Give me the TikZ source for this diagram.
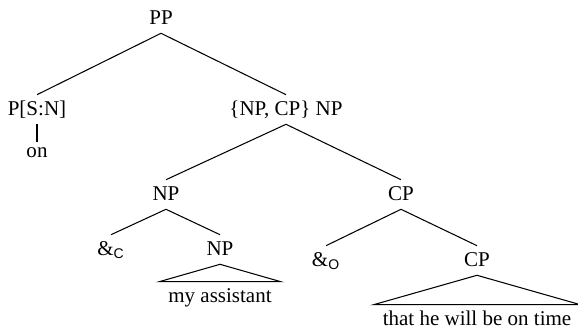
\documentclass[tikz,border=0pt]{standalone}
\usepackage{fontspec}
\setmainfont{Liberation Serif}
\setsansfont{Liberation Sans}
\newfontfamily\treefont{Liberation Serif}
\usepackage{tikz}

\begin{document}
\begin{tikzpicture}[
    x=0.571pt, y=0.571pt,
    cat/.style={anchor=base, font=\treefont\fontsize{12}{14}\selectfont,
                text height=8pt, text depth=1.7pt,
                inner xsep=5pt, inner ysep=3.4pt},
    word/.style={cat, text height=4.8pt},
    branch/.style={line width=0.6pt},
]
\useasboundingbox (0,0) rectangle (578,-329);

% Top level
\node[cat]  (pp)   at (161,-24)  {PP};
\node[cat]  (psn)  at (37,-115)  {P[S:N]};
\node[word] (on)   at (37,-157)  {on};
\node[cat]  (conj) at (286,-115) {\{NP, CP\} NP};
\draw[branch] (pp.south) -- (psn.north);
\draw[branch] (pp.south) -- (conj.north);
\draw[branch] (psn.south) -- (on.north);

% Coordinated phrases
\node[cat] (np) at (166,-200) {NP};
\node[cat] (cp) at (401,-200) {CP};
\draw[branch] (conj.south) -- (np.north);
\draw[branch] (conj.south) -- (cp.north);

% NP branch
\node[cat] (andc)   at (111,-255) {\&\textsubscript{\sffamily C}};
\node[cat] (npin)   at (220,-255) {NP};
\node[cat] (assist) at (220,-302) {my assistant};
\draw[branch] (np.south) -- (andc.north);
\draw[branch] (np.south) -- (npin.north);
\draw[branch] (npin.south) -- (assist.north west) -- (assist.north east) -- cycle;

% CP branch
\node[cat] (ando)   at (326,-266) {\&\textsubscript{\sffamily O}};
\node[cat] (cpin)   at (477,-266) {CP};
\node[cat] (clause) at (477,-325) {that he will be on time};
\draw[branch] (cp.south) -- (ando.north);
\draw[branch] (cp.south) -- (cpin.north);
\draw[branch] (cpin.south) -- (clause.north west) -- (clause.north east) -- cycle;
\end{tikzpicture}
\end{document}
